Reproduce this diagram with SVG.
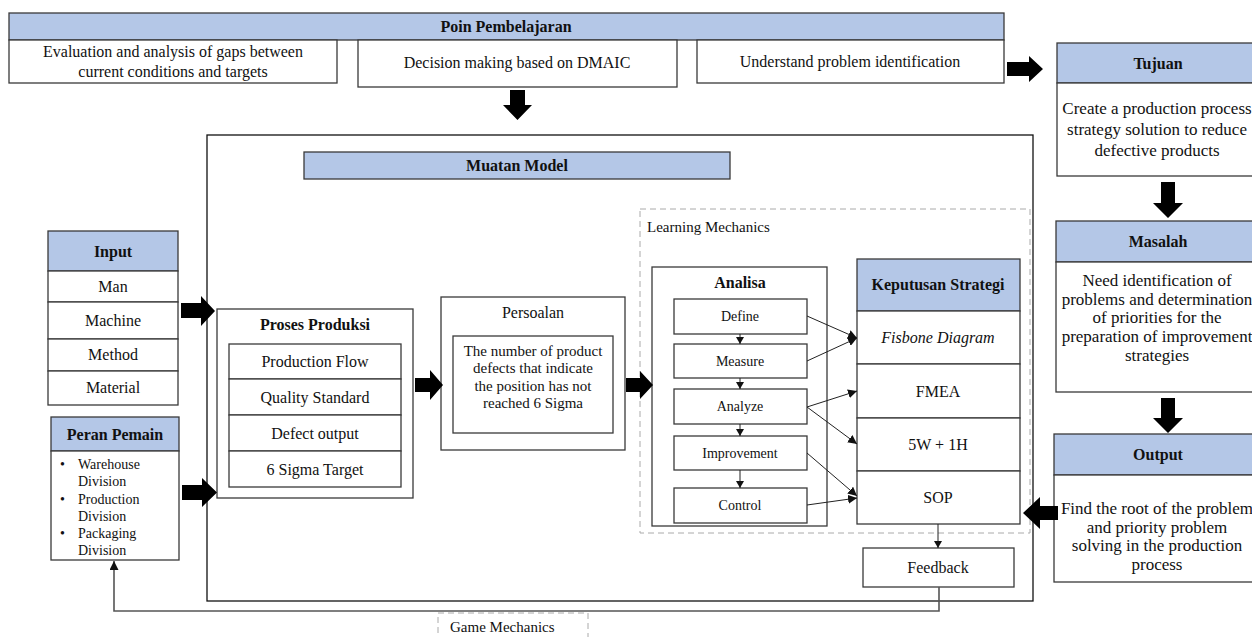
<svg xmlns="http://www.w3.org/2000/svg" width="1252" height="637" viewBox="0 0 1252 637">
<style>
text{font-family:"Liberation Serif","Times New Roman",serif;fill:#111;}
.t{font-size:16px;text-anchor:middle;}
.tb{font-size:16px;font-weight:bold;text-anchor:middle;}
.ts{font-size:15px;text-anchor:middle;}
.tr{font-size:17px;text-anchor:middle;}
.tm{font-size:14px;text-anchor:middle;}
.tl{font-size:14px;}
.tg{font-size:15px;}
.box{fill:#fff;stroke:#3a3a3a;stroke-width:1.3;}
.hdr{fill:#B4C7E7;stroke:#3a3a3a;stroke-width:1.3;}
.dash{fill:none;stroke:#aaa;stroke-width:1;stroke-dasharray:6 4;}
.blk{fill:#000;}
.ln{fill:none;stroke:#222;stroke-width:1;}
.fb{fill:none;stroke:#555;stroke-width:1.6;}
</style>
<defs>
<marker id="ah" markerUnits="userSpaceOnUse" markerWidth="9" markerHeight="9" refX="9" refY="4.5" orient="auto">
<path d="M0,0 L9,4.5 L0,9 Z" fill="#111"/>
</marker>
<marker id="ahs" markerUnits="userSpaceOnUse" markerWidth="7" markerHeight="8" refX="7" refY="4" orient="auto">
<path d="M0,0 L7,4 L0,8 Z" fill="#111"/>
</marker>
</defs>
<rect width="1252" height="637" fill="#fff"/>

<!-- Poin Pembelajaran -->
<g id="poin">
<rect class="hdr" x="9" y="13" width="995" height="27"/>
<text class="tb" x="506" y="32">Poin Pembelajaran</text>
<rect class="box" x="9" y="40" width="328" height="43"/>
<text class="t" x="173" y="57">Evaluation and analysis of gaps between</text>
<text class="t" x="173" y="77">current conditions and targets</text>
<rect class="box" x="358" y="40" width="319" height="47"/>
<text class="t" x="517" y="68">Decision making based on DMAIC</text>
<rect class="box" x="697" y="40" width="307" height="43"/>
<text class="t" x="850" y="67">Understand problem identification</text>
</g>

<!-- Tujuan -->
<g id="tujuan">
<rect class="hdr" x="1057" y="43" width="205" height="40"/>
<text class="tb" x="1158" y="69">Tujuan</text>
<rect class="box" x="1057" y="83" width="205" height="93"/>
<text class="tr" x="1157" y="114">Create a production process</text>
<text class="tr" x="1157" y="135">strategy solution to reduce</text>
<text class="tr" x="1157" y="156">defective products</text>
</g>

<!-- Masalah -->
<g id="masalah">
<rect class="hdr" x="1056" y="221" width="206" height="41"/>
<text class="tb" x="1158" y="247">Masalah</text>
<rect class="box" x="1056" y="262" width="206" height="130"/>
<text class="tr" x="1157" y="286">Need identification of</text>
<text class="tr" x="1157" y="305">problems and determination</text>
<text class="tr" x="1157" y="323">of priorities for the</text>
<text class="tr" x="1157" y="342">preparation of improvement</text>
<text class="tr" x="1157" y="361">strategies</text>
</g>

<!-- Output -->
<g id="output">
<rect class="hdr" x="1054" y="434" width="208" height="41"/>
<text class="tb" x="1158" y="460">Output</text>
<rect class="box" x="1054" y="475" width="208" height="107"/>
<text class="tr" x="1157" y="514">Find the root of the problem</text>
<text class="tr" x="1157" y="533">and priority problem</text>
<text class="tr" x="1157" y="551">solving in the production</text>
<text class="tr" x="1157" y="570">process</text>
</g>

<!-- Main container -->
<g id="muatan-model">
<rect x="207" y="135" width="826" height="466" fill="none" stroke="#111" stroke-width="1.3"/>
<rect class="hdr" x="304" y="152" width="426" height="27"/>
<text class="tb" x="517" y="171">Muatan Model</text>
</g>

<!-- Input -->
<g id="input">
<rect class="hdr" x="48" y="231" width="130" height="40"/>
<text class="tb" x="113" y="257">Input</text>
<rect class="box" x="48" y="271" width="130" height="31"/>
<text class="t" x="113" y="292">Man</text>
<rect class="box" x="48" y="302" width="130" height="37"/>
<text class="t" x="113" y="326">Machine</text>
<rect class="box" x="48" y="339" width="130" height="32"/>
<text class="t" x="113" y="360">Method</text>
<rect class="box" x="48" y="371" width="130" height="34"/>
<text class="t" x="113" y="393">Material</text>
</g>

<!-- Peran Pemain -->
<g id="peran-pemain">
<rect class="hdr" x="51" y="417" width="128" height="34"/>
<text class="tb" x="115" y="440">Peran Pemain</text>
<rect class="box" x="51" y="451" width="128" height="109"/>
<text class="tl" x="60" y="469">•</text>
<text class="tl" x="78" y="469">Warehouse</text>
<text class="tl" x="78" y="486">Division</text>
<text class="tl" x="60" y="504">•</text>
<text class="tl" x="78" y="504">Production</text>
<text class="tl" x="78" y="521">Division</text>
<text class="tl" x="60" y="538">•</text>
<text class="tl" x="78" y="538">Packaging</text>
<text class="tl" x="78" y="555">Division</text>
</g>

<!-- Proses Produksi -->
<g id="proses-produksi">
<rect class="box" x="217" y="309" width="196" height="189"/>
<text class="tb" x="315" y="330">Proses Produksi</text>
<rect class="box" x="229" y="344" width="172" height="35"/>
<text class="t" x="315" y="367">Production Flow</text>
<rect class="box" x="229" y="379" width="172" height="36"/>
<text class="t" x="315" y="403">Quality Standard</text>
<rect class="box" x="229" y="415" width="172" height="36"/>
<text class="t" x="315" y="439">Defect output</text>
<rect class="box" x="229" y="451" width="172" height="36"/>
<text class="t" x="315" y="475">6 Sigma Target</text>
</g>

<!-- Persoalan -->
<g id="persoalan">
<rect class="box" x="441" y="297" width="184" height="153"/>
<text class="t" x="533" y="318">Persoalan</text>
<rect class="box" x="453" y="336" width="160" height="97"/>
<text class="ts" x="533" y="356">The number of product</text>
<text class="ts" x="533" y="373">defects that indicate</text>
<text class="ts" x="533" y="391">the position has not</text>
<text class="ts" x="533" y="408">reached 6 Sigma</text>
</g>

<!-- Learning Mechanics -->
<g id="learning-mechanics">
<rect class="dash" x="640" y="209" width="390" height="324"/>
<text class="tg" x="647" y="232">Learning Mechanics</text>
</g>

<!-- Analisa -->
<g id="analisa">
<rect class="box" x="652" y="267" width="175" height="259"/>
<text class="tb" x="740" y="288">Analisa</text>
</g>
<g id="define"><rect class="box" x="674" y="299" width="133" height="35"/><text class="tm" x="740" y="321">Define</text></g>
<g id="measure"><rect class="box" x="674" y="344" width="133" height="34"/><text class="tm" x="740" y="366">Measure</text></g>
<g id="analyze"><rect class="box" x="674" y="389" width="133" height="35"/><text class="tm" x="740" y="411">Analyze</text></g>
<g id="improvement"><rect class="box" x="674" y="436" width="133" height="34"/><text class="tm" x="740" y="458">Improvement</text></g>
<g id="control"><rect class="box" x="674" y="488" width="133" height="35"/><text class="tm" x="740" y="510">Control</text></g>

<!-- Keputusan Strategi -->
<g id="keputusan-strategi">
<rect class="hdr" x="857" y="259" width="163" height="52"/>
<text class="tb" x="938" y="290">Keputusan Strategi</text>
</g>
<g id="fisbone"><rect class="box" x="857" y="311" width="163" height="53"/><text class="t" x="938" y="343" font-style="italic">Fisbone Diagram</text></g>
<g id="fmea"><rect class="box" x="857" y="364" width="163" height="54"/><text class="t" x="938" y="397">FMEA</text></g>
<g id="5w1h"><rect class="box" x="857" y="418" width="163" height="53"/><text class="t" x="938" y="450">5W + 1H</text></g>
<g id="sop"><rect class="box" x="857" y="471" width="163" height="53"/><text class="t" x="938" y="503">SOP</text></g>

<!-- Feedback -->
<g id="feedback">
<rect class="box" x="863" y="548" width="151" height="39"/>
<text class="t" x="938" y="573">Feedback</text>
</g>

<!-- Game Mechanics -->
<g id="game-mechanics">
<rect class="dash" x="438" y="613" width="150" height="40"/>
<text class="tg" x="450" y="632">Game Mechanics</text>
</g>

<!-- Connectors -->
<g id="connectors">
<path class="blk" d="M1007,62 L1029,62 L1029,56 L1043,69 L1029,82 L1029,76 L1007,76 Z"/>
<path class="blk" d="M510,90 L525,90 L525,105 L532,105 L517.5,120 L503,105 L510,105 Z"/>
<path class="blk" d="M1161,182 L1175,182 L1175,203 L1183,203 L1168,218 L1153,203 L1161,203 Z"/>
<path class="blk" d="M1161,398 L1175,398 L1175,418 L1183,418 L1168,433 L1153,418 L1161,418 Z"/>
<path class="blk" d="M181,303 L201,303 L201,296 L215,311 L201,326 L201,318 L181,318 Z"/>
<path class="blk" d="M182,485 L202,485 L202,478 L217,492.5 L202,507 L202,500 L182,500 Z"/>
<path class="blk" d="M415,378 L430,378 L430,370 L443,385 L430,400 L430,392 L415,392 Z"/>
<path class="blk" d="M626,378 L640,378 L640,371 L653,385 L640,399 L640,392 L626,392 Z"/>
<path class="blk" d="M1058,506 L1040,506 L1040,497 L1023,513 L1040,529 L1040,520 L1058,520 Z"/>
<line class="ln" x1="740" y1="334" x2="740" y2="344" marker-end="url(#ahs)"/>
<line class="ln" x1="740" y1="378" x2="740" y2="389" marker-end="url(#ahs)"/>
<line class="ln" x1="740" y1="424" x2="740" y2="436" marker-end="url(#ahs)"/>
<line class="ln" x1="740" y1="470" x2="740" y2="488" marker-end="url(#ahs)"/>
<line class="ln" x1="807" y1="316" x2="857" y2="338" marker-end="url(#ah)"/>
<line class="ln" x1="807" y1="361" x2="857" y2="338" marker-end="url(#ah)"/>
<line class="ln" x1="807" y1="407" x2="857" y2="391" marker-end="url(#ah)"/>
<line class="ln" x1="807" y1="407" x2="857" y2="444" marker-end="url(#ah)"/>
<line class="ln" x1="807" y1="453" x2="857" y2="496" marker-end="url(#ah)"/>
<line class="ln" x1="807" y1="505" x2="857" y2="498" marker-end="url(#ah)"/>
<line class="ln" x1="938" y1="524" x2="938" y2="548" marker-end="url(#ahs)"/>
<polyline class="fb" points="939,587 939,611 114,611 114,561" marker-end="url(#ah)"/>
</g>
</svg>
